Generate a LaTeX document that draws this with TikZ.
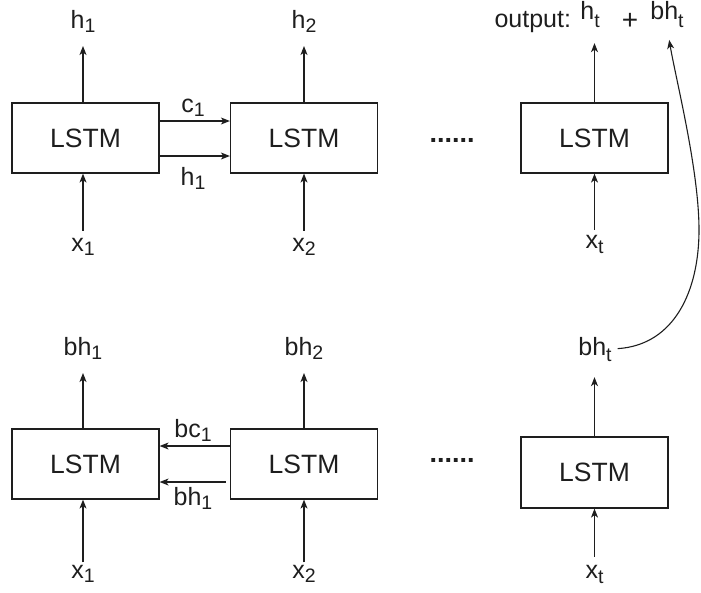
\documentclass[tikz,border=0pt]{standalone}
\usepackage{fontspec}
\setmainfont{Liberation Sans}
\usetikzlibrary{arrows.meta}
\definecolor{ink}{HTML}{1E1E1E}
\newcommand{\lsub}[2][4pt]{\raisebox{-#1}{\fontsize{19.5}{19.5}\selectfont #2}}
\begin{document}
\begin{tikzpicture}[x=1pt,y=1pt,
  lstm/.style={draw=ink, line width=1.2pt, minimum width=147pt, minimum height=70pt,
    inner sep=0pt, text=ink, font=\fontsize{26.5}{30}\selectfont},
  lab/.style={inner sep=0pt, outer sep=0pt, anchor=base, text=ink,
    font=\fontsize{25}{28}\selectfont},
  arr/.style={draw=ink, line width=1.1pt, -{Stealth[length=9pt,width=7pt,inset=2.5pt]}},
  dotsnode/.style={inner sep=0pt, text=ink, font=\fontsize{27}{30}\selectfont\bfseries}]
\useasboundingbox (0,0) rectangle (701,-592);
% boxes
\node[lstm] (b1) at (85.5,-138) {LSTM};
\node[lstm] (b2) at (304,-138) {LSTM};
\node[lstm] (b3) at (594.5,-138) {LSTM};
\node[lstm] (b4) at (85.5,-464) {LSTM};
\node[lstm] (b5) at (304,-464) {LSTM};
\node[lstm, minimum height=71pt] (b6) at (594.5,-472.5) {LSTM};
% dots
\node[dotsnode] (d1) at (452,-140) {......};
\node[dotsnode] (d2) at (452,-460) {......};
% top labels
\node[lab] (h1) at (83,-28) {h\lsub{1}};
\node[lab] (h2) at (304,-28) {h\lsub{2}};
\node[lab, anchor=base east] (outw) at (571,-27) {output:};
\node[lab] (ht) at (590,-19) {h\lsub[8pt]{t}};
\node[inner sep=0pt, text=ink, font=\fontsize{28}{28}\selectfont] (plus) at (630,-21) {+};
\node[lab] (bhtop) at (667,-19) {bh\lsub[8pt]{t}};
\node[lab] (x1) at (83,-251) {x\lsub{1}};
\node[lab] (x2) at (304,-251) {x\lsub{2}};
\node[lab] (xt) at (594.5,-248) {x\lsub[5pt]{t}};
\node[lab] (c1) at (193,-112) {c\lsub{1}};
\node[lab] (hm) at (193,-185) {h\lsub{1}};
% bottom labels
\node[lab] (bh1) at (83,-355) {bh\lsub{1}};
\node[lab] (bh2) at (304,-355) {bh\lsub{2}};
\node[lab] (bhtb) at (595,-355) {bh\lsub[6pt]{t}};
\node[lab] (bc1) at (193,-437) {bc\lsub{1}};
\node[lab] (bhm) at (193,-505) {bh\lsub{1}};
\node[lab] (x1b) at (83,-578) {x\lsub{1}};
\node[lab] (x2b) at (304,-578) {x\lsub{2}};
\node[lab] (xtb) at (594.5,-578) {x\lsub[5pt]{t}};
% top arrows
\draw[arr, shorten >=14pt] (b1.north -| h1.south) -- (h1.south);
\draw[arr, shorten >=14pt] (b2.north) -- (h2.south);
\draw[arr, shorten >=16pt] (b3.north) -- (b3.north |- ht.south);
\draw[arr, shorten <=7pt] (x1.north) -- (b1.south -| x1.north);
\draw[arr, shorten <=7pt] (x2.north) -- (b2.south);
\draw[arr, shorten <=5pt] (xt.north) -- (b3.south);
\draw[arr] ([yshift=17pt]b1.east) -- ([yshift=17pt]b2.west);
\draw[arr] ([yshift=-18pt]b1.east) -- ([yshift=-18pt]b2.west);
% bottom arrows
\draw[arr, shorten >=14pt] (b4.north -| bh1.south) -- (bh1.south);
\draw[arr, shorten >=14pt] (b5.north) -- (bh2.south);
\draw[arr, shorten >=16pt] (b6.north) -- (b6.north |- bhtb.south);
\draw[arr, shorten <=2.5pt] (x1b.north) -- (b4.south -| x1b.north);
\draw[arr, shorten <=2.5pt] (x2b.north) -- (b5.south);
\draw[arr, shorten <=8pt] (xtb.north) -- (b6.south);
\draw[arr] ([yshift=18pt]b5.west) -- ([yshift=18pt]b4.east);
\draw[arr] ([yshift=-18pt,xshift=-4pt]b5.west) -- ([yshift=-18pt]b4.east);
% curve from bh_t to output bh_t
\coordinate (bend) at (699,-230);
\draw[arr, shorten <=6pt, shorten >=13pt] (bhtb.east) .. controls (675,-345) and (699,-290) .. (bend)
  .. controls (699,-170) and (676,-80) .. (bhtop.south);
\end{tikzpicture}
\end{document}
